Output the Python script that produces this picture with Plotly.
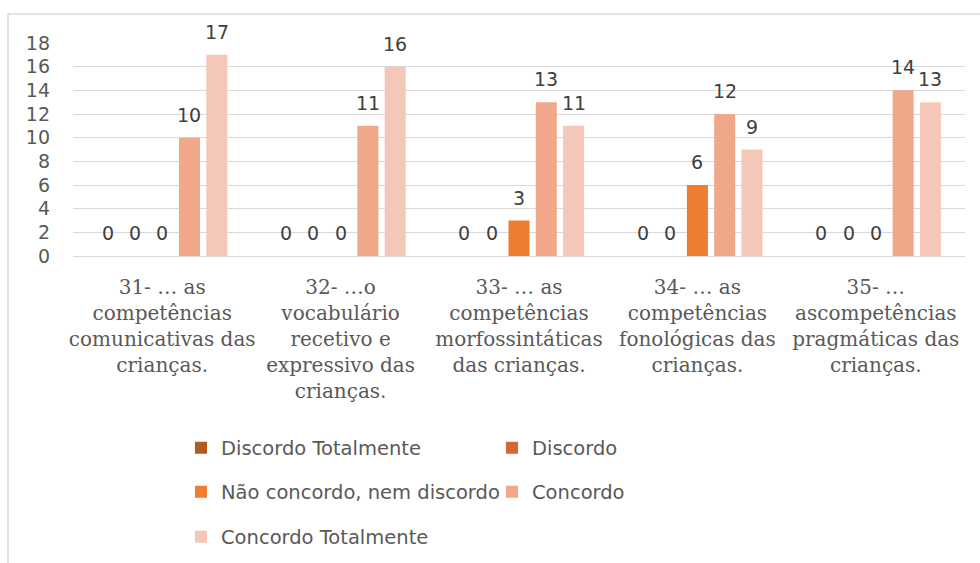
import plotly.graph_objects as go

categories = [
    "31- … as<br>competências<br>comunicativas das<br>crianças.",
    "32- …o<br>vocabulário<br>recetivo e<br>expressivo das<br>crianças.",
    "33- … as<br>competências<br>morfossintáticas<br>das crianças.",
    "34- … as<br>competências<br>fonológicas das<br>crianças.",
    "35- …<br>ascompetências<br>pragmáticas das<br>crianças.",
]
series_names = ["Discordo Totalmente", "Discordo", "Não concordo, nem discordo",
                "Concordo", "Concordo Totalmente"]
discordo_totalmente = [0, 0, 0, 0, 0]
discordo = [0, 0, 0, 0, 0]
nao_concordo_nem_discordo = [0, 0, 3, 6, 0]
concordo = [10, 11, 13, 12, 14]
concordo_totalmente = [17, 16, 11, 9, 13]
y_ticks = [0, 2, 4, 6, 8, 10, 12, 14, 16, 18]

series_values = [discordo_totalmente, discordo, nao_concordo_nem_discordo,
                 concordo, concordo_totalmente]
colors = ["#B15A24", "#D2692A", "#ED7D31", "#F0A78A", "#F5C7B8"]
legend_ids = ["legend", "legend", "legend2", "legend2", "legend3"]

W, H = 980, 563
ML, MR, MT, MB = 73, 15, 43, 307
pw = W - ML - MR
ph = H - MT - MB
BARGAP = 0.235
BARGROUPGAP = 0.23
SANS = "DejaVu Sans"
SERIF = "DejaVu Serif"

n_series = len(series_names)
slot_px = pw / len(categories) * (1 - BARGAP) / n_series

fig = go.Figure()
annotations = []
for i, (name, vals, col, lg) in enumerate(zip(series_names, series_values, colors, legend_ids)):
    fig.add_trace(go.Bar(
        x=categories, y=vals, name=name, marker_color=col, marker_line_width=0,
        legend=lg, hoverinfo="x+y+name",
    ))
    for cat, v in zip(categories, vals):
        annotations.append(dict(
            x=cat, y=v, xref="x", yref="y", text=str(v), showarrow=False,
            xanchor="center", yanchor="bottom",
            xshift=(i - (n_series - 1) / 2) * slot_px, yshift=10,
            font=dict(family=SANS, size=19, color="#404040"),
        ))


def px_to_paper_x(px):
    return (px - ML) / pw


def px_to_paper_y(py):
    return (H - MB - py) / ph


legend_common = dict(
    orientation="h", entrywidth=266, entrywidthmode="pixels",
    font=dict(family=SANS, size=19.5, color="#595959"),
    bgcolor="rgba(0,0,0,0)", xanchor="left", yanchor="middle",
    traceorder="normal", xref="container", yref="container",
)

fig.update_layout(
    width=W, height=H,
    margin=dict(l=ML, r=MR, t=MT, b=MB, autoexpand=False),
    paper_bgcolor="white", plot_bgcolor="white",
    barmode="group", bargap=BARGAP, bargroupgap=BARGROUPGAP,
    showlegend=True,
    legend=dict(x=181 / W, y=1 - 448 / H, **legend_common),
    legend2=dict(x=181 / W, y=1 - 492 / H, **legend_common),
    legend3=dict(x=181 / W, y=1 - 537 / H, **legend_common),
    xaxis=dict(
        tickfont=dict(family=SERIF, size=20, color="#595959"),
        showgrid=False, showline=False, ticks="", tickangle=0, automargin=False,
        ticklabelstandoff=17,
    ),
    yaxis=dict(
        range=[0, 18], tickvals=y_ticks,
        tickfont=dict(family=SANS, size=19, color="#595959"),
        showgrid=True, gridcolor="#D9D9D9", gridwidth=1,
        zeroline=True, zerolinecolor="#D9D9D9", zerolinewidth=1,
        showline=False, ticks="", ticklabelstandoff=22, automargin=False,
    ),
    annotations=annotations,
    shapes=[dict(
        type="rect", xref="paper", yref="paper",
        x0=px_to_paper_x(8), x1=px_to_paper_x(990),
        y0=px_to_paper_y(580), y1=px_to_paper_y(14),
        line=dict(color="#D9D9D9", width=1.5), fillcolor="rgba(0,0,0,0)",
        layer="below",
    )],
)

fig.write_html("out.html", config={"displayModeBar": False},
               post_script="document.body.style.margin='0';")
